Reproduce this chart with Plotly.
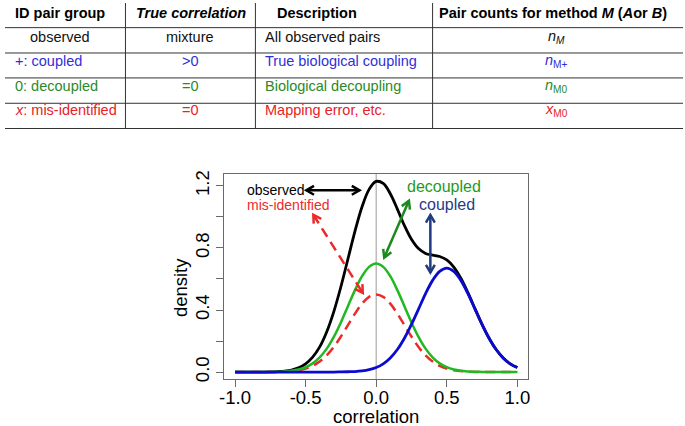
import math
import plotly.graph_objects as go

# ---------------- data ----------------
corr = [-1.0, -0.95, -0.9, -0.85, -0.8, -0.75, -0.7, -0.65, -0.6, -0.55,
        -0.5, -0.45, -0.4, -0.35, -0.3, -0.25, -0.2, -0.15, -0.1, -0.05,
        0.0, 0.05, 0.1, 0.15, 0.2, 0.25, 0.3, 0.35, 0.4, 0.45,
        0.5, 0.55, 0.6, 0.65, 0.7, 0.75, 0.8, 0.85, 0.9, 0.95, 1.0]

observed = [0.000, 0.000, 0.000, 0.000, 0.000, 0.001, 0.003, 0.006, 0.013, 0.027,
            0.053, 0.096, 0.162, 0.260, 0.390, 0.550, 0.729, 0.909, 1.066, 1.178,
            1.229, 1.216, 1.150, 1.051, 0.945, 0.856, 0.796, 0.765, 0.754, 0.745,
            0.723, 0.677, 0.605, 0.512, 0.409, 0.308, 0.218, 0.145, 0.091, 0.053, 0.029]

misidentified = [0.000, 0.000, 0.000, 0.000, 0.000, 0.000, 0.001, 0.003, 0.006, 0.011,
                 0.022, 0.040, 0.068, 0.108, 0.162, 0.229, 0.303, 0.377, 0.441, 0.485,
                 0.500, 0.485, 0.441, 0.377, 0.303, 0.229, 0.162, 0.108, 0.068, 0.040,
                 0.022, 0.011, 0.006, 0.003, 0.001, 0.000, 0.000, 0.000, 0.000, 0.000, 0.000]

decoupled = [0.000, 0.000, 0.000, 0.000, 0.000, 0.001, 0.002, 0.004, 0.008, 0.016,
             0.031, 0.056, 0.095, 0.151, 0.227, 0.320, 0.425, 0.528, 0.618, 0.678,
             0.700, 0.678, 0.618, 0.528, 0.425, 0.320, 0.227, 0.151, 0.095, 0.056,
             0.031, 0.016, 0.008, 0.004, 0.002, 0.001, 0.000, 0.000, 0.000, 0.000, 0.000]

coupled = [0.000, 0.000, 0.000, 0.000, 0.000, 0.000, 0.000, 0.000, 0.000, 0.000,
           0.000, 0.000, 0.000, 0.000, 0.000, 0.001, 0.002, 0.003, 0.007, 0.015,
           0.029, 0.053, 0.091, 0.145, 0.218, 0.307, 0.406, 0.506, 0.591, 0.649,
           0.670, 0.649, 0.591, 0.506, 0.406, 0.307, 0.218, 0.145, 0.091, 0.053, 0.029]

x_tickvals = [-1.0, -0.5, 0.0, 0.5, 1.0]
x_ticktext = ["-1.0", "-0.5", "0.0", "0.5", "1.0"]
y_tickvals = [0.0, 0.4, 0.8, 1.2]
y_ticktext = ["0.0", "0.4", "0.8", "1.2"]
y_minor_tickvals = [0.2, 0.6, 1.0]

# table content
table_header = ["<b>ID pair group</b>", "<b><i>True correlation</i></b>", "<b>Description</b>",
                "<b>Pair counts for method <i>M</i> (<i>A</i>or <i>B</i>)</b>"]
groups = ["observed", "+: coupled", "0: decoupled", "<i>x</i>: mis-identified"]
true_corr = ["mixture", ">0", "=0", "=0"]
descriptions = ["All observed pairs", "True biological coupling", "Biological decoupling",
                "Mapping error, etc."]
pair_counts = ["<i>n<sub>M</sub></i>", "<i>n</i><sub>M+</sub>", "<i>n</i><sub>M0</sub>",
               "<i>x</i><sub>M0</sub>"]
row_colors = ["#111111", "#2f2fd8", "#2a8a2a", "#e62228"]

# ---------------- geometry ----------------
W, H = 685, 426
FONT = "Liberation Sans, Arial, Helvetica, sans-serif"
PL, PR, PT, PB = 221.7, 528.3, 173.3, 381.7
X0, X1 = -1.075, 1.075
Y0, Y1 = -0.047, 1.278
sx = (PR - PL) / (X1 - X0)
sy = (PB - PT) / (Y1 - Y0)


def to_px(x, y):
    return PL + (x - X0) * sx, PB - (y - Y0) * sy


def to_data(px, py):
    return X0 + (px - PL) / sx, Y0 + (PB - py) / sy


fig = go.Figure()

# curves
fig.add_trace(go.Scatter(x=corr, y=observed, mode="lines",
                         line=dict(color="#000000", width=2.8, shape="spline"),
                         hoverinfo="skip"))
fig.add_trace(go.Scatter(x=corr, y=misidentified, mode="lines",
                         line=dict(color="#ec2a2a", width=2.5, shape="spline", dash="10px,6px"),
                         hoverinfo="skip"))
fig.add_trace(go.Scatter(x=corr, y=decoupled, mode="lines",
                         line=dict(color="#22b822", width=2.5, shape="spline"),
                         hoverinfo="skip"))
fig.add_trace(go.Scatter(x=corr, y=coupled, mode="lines",
                         line=dict(color="#0a0ad0", width=2.8, shape="spline"),
                         hoverinfo="skip"))

# vertical zero line
fig.add_shape(type="line", xref="x", yref="y domain", x0=0, x1=0, y0=0, y1=1,
              line=dict(color="#9a9a9a", width=1), layer="below")


def add_arrow(p_start, p_end, color, width=2.5, dash="solid", head=9.0):
    fig.add_shape(type="line", xref="x", yref="y",
                  x0=p_start[0], y0=p_start[1], x1=p_end[0], y1=p_end[1],
                  line=dict(color=color, width=width, dash=dash))
    for tip, other in ((p_end, p_start), (p_start, p_end)):
        tx, ty = to_px(*tip)
        ox, oy = to_px(*other)
        ang = math.atan2(oy - ty, ox - tx)
        pts = []
        for da in (math.radians(30), -math.radians(30)):
            a = ang + da
            pts.append(to_data(tx + head * math.cos(a), ty + head * math.sin(a)))
        path = "M {:.5f},{:.5f} L {:.5f},{:.5f} L {:.5f},{:.5f}".format(
            pts[0][0], pts[0][1], tip[0], tip[1], pts[1][0], pts[1][1])
        fig.add_shape(type="path", xref="x", yref="y", path=path,
                      line=dict(color=color, width=width))


add_arrow((-0.495, 1.172), (-0.118, 1.172), "#000000")
add_arrow((-0.445, 1.014), (-0.095, 0.510), "#ec2a2a", dash="10px,6px")
add_arrow((0.232, 1.104), (0.057, 0.738), "#1a8a1a")
add_arrow((0.384, 1.013), (0.384, 0.642), "#213a80")

# in-plot labels
fig.add_annotation(x=-0.927, y=1.172, xref="x", yref="y", text="observed", showarrow=False,
                   xanchor="left", yanchor="middle", font=dict(size=14, color="#000000", family=FONT))
fig.add_annotation(x=-0.927, y=1.077, xref="x", yref="y", text="mis-identified", showarrow=False,
                   xanchor="left", yanchor="middle", font=dict(size=14, color="#ec2a2a", family=FONT))
fig.add_annotation(x=0.482, y=1.197, xref="x", yref="y", text="decoupled", showarrow=False,
                   xanchor="center", yanchor="middle", font=dict(size=16, color="#1f9a1f", family=FONT))
fig.add_annotation(x=0.503, y=1.083, xref="x", yref="y", text="coupled", showarrow=False,
                   xanchor="center", yanchor="middle", font=dict(size=16, color="#27398a", family=FONT))

# axis titles
fig.add_annotation(x=375.0 / W, y=1 - 419.0 / H, xref="paper", yref="paper", text="correlation",
                   showarrow=False, xanchor="center", yanchor="middle",
                   font=dict(size=18.5, color="#000000", family=FONT))
fig.add_annotation(x=178.0 / W, y=1 - 289.0 / H, xref="paper", yref="paper", text="density",
                   showarrow=False, textangle=-90, xanchor="center", yanchor="middle",
                   font=dict(size=18.5, color="#000000", family=FONT))

# ---------------- table ----------------
h_lines = [25.0, 50.7, 76.0, 101.7, 127.3]
v_lines = [121.7, 253.0, 432.0]
for yl in h_lines:
    fig.add_shape(type="line", xref="paper", yref="paper", x0=0, x1=1,
                  y0=1 - yl / H, y1=1 - yl / H, line=dict(color="#333333", width=1))
for xl in v_lines:
    fig.add_shape(type="line", xref="paper", yref="paper", x0=xl / W, x1=xl / W,
                  y0=1 - 127.3 / H, y1=1, line=dict(color="#333333", width=1))

TS = 14.5
row_y = [10.0, 34.0, 58.5, 84.0, 109.0]


def cell(text, px, py, anchor, color):
    fig.add_annotation(x=px / W, y=1 - py / H, xref="paper", yref="paper", text=text,
                       showarrow=False, xanchor=anchor, yanchor="middle",
                       font=dict(size=TS, color=color, family=FONT))


cell(table_header[0], 8.3, row_y[0], "left", "#000000")
cell(table_header[1], 188.0, row_y[0], "center", "#000000")
cell(table_header[2], 272.7, row_y[0], "left", "#000000")
cell(table_header[3], 554.0, row_y[0], "center", "#000000")
for i in range(4):
    c = row_colors[i]
    gx = 23.3 if i == 0 else 8.3
    cell(groups[i], gx, row_y[i + 1], "left", c)
    cell(true_corr[i], 187.0, row_y[i + 1], "center", c)
    cell(descriptions[i], 261.0, row_y[i + 1], "left", c)
    cell(pair_counts[i], 557.0, row_y[i + 1], "center", c)

# ---------------- layout ----------------
axis_common = dict(showgrid=False, zeroline=False, showline=True, mirror=True,
                   linecolor="#6a6a6a", linewidth=1, ticks="outside", ticklen=7,
                   tickcolor="#6a6a6a", tickwidth=1,
                   tickfont=dict(size=18.5, color="#000000", family=FONT))
fig.update_layout(
    width=W, height=H,
    margin=dict(l=0, r=0, t=0, b=0),
    paper_bgcolor="white", plot_bgcolor="white",
    showlegend=False,
    font=dict(family=FONT, color="#000000"),
    xaxis=dict(domain=[PL / W, PR / W], range=[X0, X1], tickmode="array",
               tickvals=x_tickvals, ticktext=x_ticktext, ticklabelstandoff=-6,
               **axis_common),
    yaxis=dict(domain=[1 - PB / H, 1 - PT / H], range=[Y0, Y1], tickmode="array",
               tickvals=y_tickvals, ticktext=y_ticktext, tickangle=-90,
               minor=dict(tickvals=y_minor_tickvals, ticks="outside", ticklen=7,
                          tickcolor="#6a6a6a", tickwidth=1, showgrid=False),
               **axis_common),
)

fig.write_html("out.html", config={"displayModeBar": False},
               post_script="document.body.style.margin='0px';")
